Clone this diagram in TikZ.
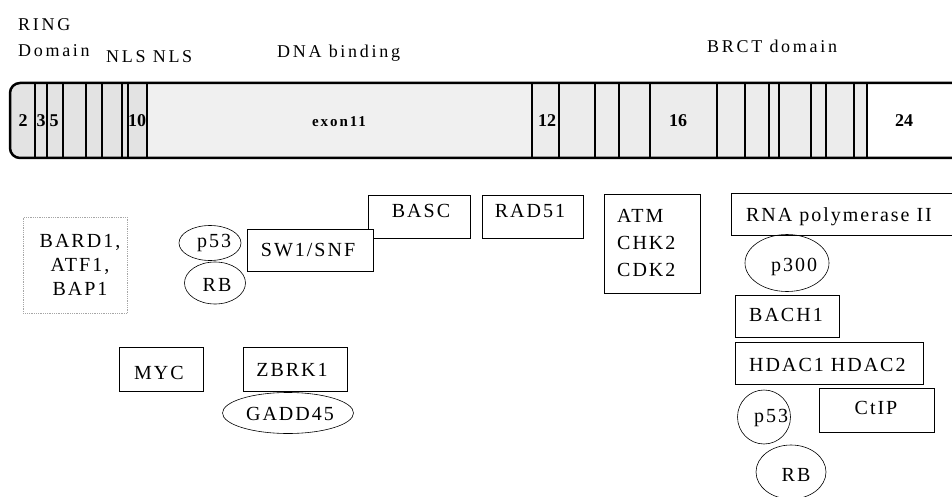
\documentclass[tikz,border=0pt]{standalone}
\usepackage{fontspec}
\setmainfont{Liberation Serif}
\newfontfamily\lsfont[LetterSpace=10]{Liberation Serif}
\newfontfamily\hdfont[LetterSpace=15]{Liberation Serif}
\newfontfamily\exfont[LetterSpace=13]{Liberation Serif}
\usetikzlibrary{shapes.geometric}
\begin{document}
\begin{tikzpicture}[x=1pt,y=-1pt,
  box/.style={draw=black, line width=0.9pt, fill=white, inner sep=0pt, anchor=north west},
  faintbox/.style={draw=gray!70, densely dotted, line width=0.8pt, fill=white, inner sep=0pt, anchor=north west},
  oval/.style={draw=black, line width=0.6pt, ellipse, inner sep=0pt},
  lbl/.style={font=\lsfont\fontsize{20}{23}\selectfont, inner sep=0pt},
  hdr/.style={font=\hdfont\fontsize{18}{21}\selectfont, inner sep=0pt, anchor=west},
  num/.style={font=\bfseries\fontsize{18}{20}\selectfont, inner sep=0pt},
  exline/.style={line width=1.2pt}]
\useasboundingbox (0,0) rectangle (952,497);
% headers
\node[hdr] (ring) at (18,25) {RING};
\node[hdr] (domain) at (18,51) {Domain};
\node[hdr] (nls) at (106,57) {NLS NLS};
\node[hdr] (dna) at (277,53) {DNA binding};
\node[hdr] (brct) at (707,46) {BRCT domain};
% bar
\begin{scope}
  \clip[rounded corners=10pt] (10,83) rectangle (975,158);
  \fill[gray!22] (10,83) rectangle (147,158);
  \fill[gray!12] (147,83) rectangle (532,158);
  \fill[gray!15] (532,83) rectangle (867,158);
\end{scope}
\foreach \x in {35,47,63,86,102,122,128,147,532,559,595,619,650,717,745,769,779,811,826,854,867}
  \draw[exline] (\x,84) -- (\x,157);
\draw[line width=2.5pt, rounded corners=10pt] (10,83) rectangle (975,158);
\node[num] (e2) at (23,121) {2};
\node[num] (e3) at (41,121) {3};
\node[num] (e5) at (54,121) {5};
\node[num] (e10) at (137,121) {10};
\node[num, font=\exfont\bfseries\fontsize{15}{17}\selectfont] (e11) at (339,122) {exon11};
\node[num] (e12) at (547,121) {12};
\node[num] (e16) at (678,121) {16};
\node[num] (e24) at (904,121) {24};
% left group
\node[faintbox, minimum width=104pt, minimum height=96pt] (bardbox) at (23,217) {};
\node[lbl, align=center] (bard) at (80,265) {BARD1,\\[1pt]ATF1,\\[1pt]BAP1};
\node[oval, minimum width=62pt, minimum height=35pt] (p53a) at (210,243) {};
\node[lbl] (p53aT) at (214,243) {p53};
\node[oval, minimum width=61pt, minimum height=42pt] (rba) at (215,283) {};
\node[lbl] (rbaT) at (217,285) {RB};
\node[box, minimum width=102pt, minimum height=43pt] (bascbox) at (368,195) {};
\node[lbl] (basc) at (421,211) {BASC};
\node[box, minimum width=126pt, minimum height=42pt] (swibox) at (247,229) {};
\node[lbl] (swi) at (308,250) {SW1/SNF};
\node[box, minimum width=101pt, minimum height=43pt] (radbox) at (482,195) {};
\node[lbl] (rad) at (530,211) {RAD51};
\node[box, minimum width=96pt, minimum height=99pt] (atmbox) at (604,194) {};
\node[lbl, anchor=west] (atm) at (617,216) {ATM};
\node[lbl, anchor=west] (chk) at (617,243) {CHK2};
\node[lbl, anchor=west] (cdk) at (617,270) {CDK2};
\node[box, minimum width=84pt, minimum height=44pt] (mycbox) at (119,347) {};
\node[lbl] (myc) at (159,373) {MYC};
\node[box, minimum width=104pt, minimum height=44pt] (zbrkbox) at (243,347) {};
\node[lbl] (zbrk) at (292,370) {ZBRK1};
\node[oval, minimum width=131pt, minimum height=41pt] (gadd) at (288,413) {};
\node[lbl] (gaddT) at (290,414) {GADD45};
% right group
\node[box, minimum width=225pt, minimum height=42pt] (rnabox) at (731,193) {};
\node[lbl] (rna) at (839,217) {RNA polymerase II};
\node[oval, minimum width=84pt, minimum height=57pt] (p300) at (787,263) {};
\node[lbl] (p300T) at (794,267) {p300};
\node[box, minimum width=104pt, minimum height=42pt] (bachbox) at (735,295) {};
\node[lbl, anchor=west] (bach) at (749,315) {BACH1};
\node[box, minimum width=188pt, minimum height=42pt] (hdacbox) at (735,342) {};
\node[lbl, anchor=west] (hdac) at (749,365) {HDAC1 HDAC2};
\node[oval, minimum width=53pt, minimum height=54pt] (p53b) at (764,417) {};
\node[lbl] (p53bT) at (771,418) {p53};
\node[box, minimum width=115pt, minimum height=44pt] (ctipbox) at (819,388) {};
\node[lbl] (ctip) at (876,408) {CtIP};
\node[oval, minimum width=70pt, minimum height=54pt] (rbb) at (791,472) {};
\node[lbl] (rbbT) at (796,475) {RB};
\end{tikzpicture}
\end{document}
